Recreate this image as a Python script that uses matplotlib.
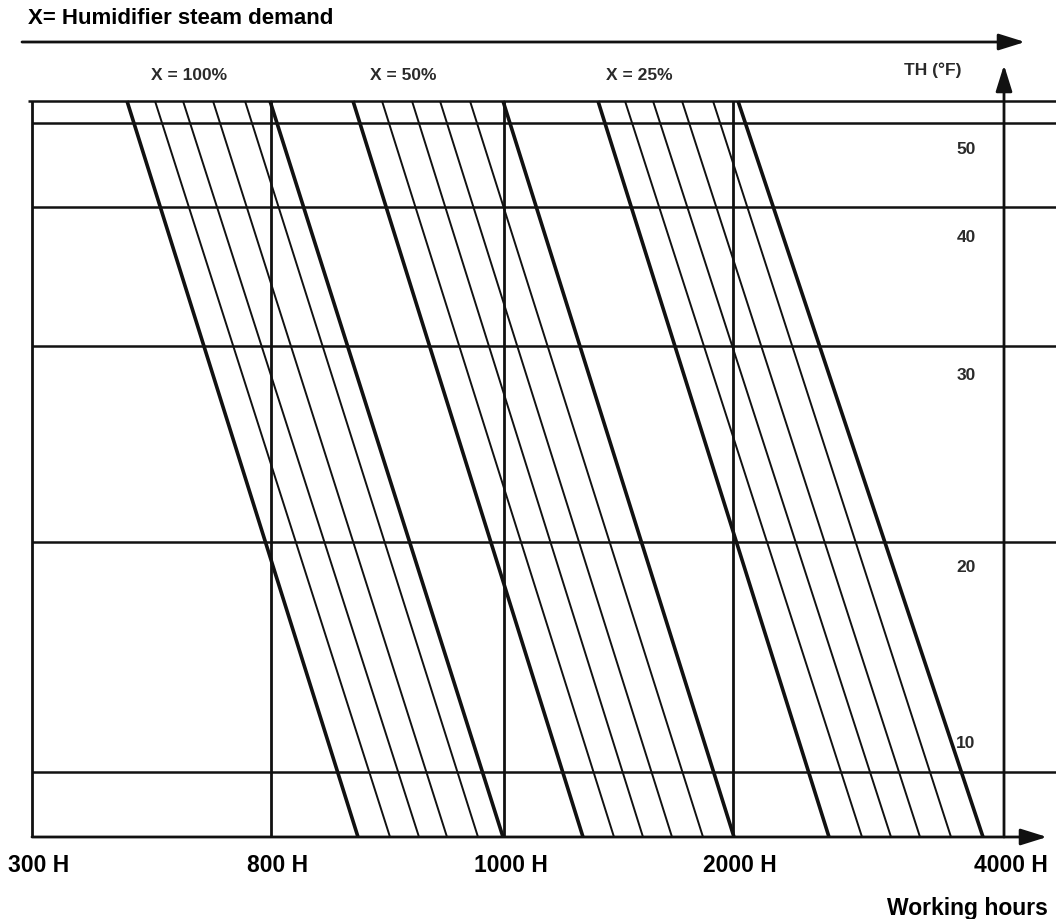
import matplotlib
matplotlib.use("Agg")
import matplotlib.pyplot as plt

# Nomogram: humidifier working hours vs TH (F) for steam demand X
# chart units: x along working-hours axis, y along TH axis (bottom line = 0)

hour_labels = ['300 H', '800 H', '1000 H', '2000 H', '4000 H']
hour_pos = [0.0, 2.39, 4.72, 7.01, 9.72]

th_labels = ['10', '20', '30', '40', '50']
th_pos = [0.94, 2.69, 4.62, 5.99, 6.87]

# horizontal reference lines of the TH scale
th_lines = [0.65, 2.95, 4.91, 6.30, 7.14, 7.36]
top_y = 7.36

# demand families: x where each line meets the top and the bottom line
x_labels = ['X = 100%', 'X = 50%', 'X = 25%']
x_label_pos = [1.57, 3.71, 6.07]

fam_top = [
    [0.95, 1.23, 1.51, 1.81, 2.13, 2.38],
    [3.21, 3.50, 3.80, 4.08, 4.38, 4.71],
    [5.66, 5.93, 6.21, 6.50, 6.81, 7.06],
]
fam_bottom = [
    [3.26, 3.58, 3.87, 4.15, 4.46, 4.71],
    [5.51, 5.82, 6.11, 6.40, 6.71, 7.02],
    [7.97, 8.30, 8.59, 8.88, 9.19, 9.51],
]

fig = plt.figure(figsize=(10.56, 9.19), dpi=100)
ax = fig.add_axes([0, 0, 1, 1])
ax.set_xlim(-0.32, 10.24)
ax.set_ylim(-0.82, 8.37)
ax.axis('off')

ink = '#111111'
bold = dict(family='Liberation Sans', weight='bold', color='black')
small = dict(family='Liberation Sans', weight='bold', color='#2a2a2a', fontsize=12.5)

# horizontal lines
for y in th_lines:
    x0 = -0.04 if y == top_y else 0.0
    ax.plot([x0, 10.24], [y, y], color=ink, lw=1.8, solid_capstyle='butt')

# vertical lines of the hours scale (not the last one, that is the arrow)
for x in hour_pos[:-1]:
    ax.plot([x, x], [0, top_y], color=ink, lw=2.0, solid_capstyle='butt')

# diagonal families
for tops, bots in zip(fam_top, fam_bottom):
    for i, (xt, xb) in enumerate(zip(tops, bots)):
        thick = i == 0 or i == len(tops) - 1
        ax.plot([xt, xb], [top_y, 0], color=ink,
                lw=2.6 if thick else 1.4, solid_capstyle='butt')

arrow = dict(arrowstyle='-|>,head_length=1.6,head_width=0.5', color=ink,
             lw=2.0, shrinkA=0, shrinkB=0, mutation_scale=10)

# working hours axis
ax.annotate('', xy=(10.15, 0), xytext=(0, 0), arrowprops=arrow)
# TH axis
ax.annotate('', xy=(hour_pos[-1], 7.72), xytext=(hour_pos[-1], 0), arrowprops=arrow)
# steam demand axis
ax.annotate('', xy=(9.93, 7.95), xytext=(-0.10, 7.95), arrowprops=arrow)

for lab, x in zip(hour_labels, hour_pos):
    ax.text(x + 0.07, -0.28, lab, ha='center', va='center', fontsize=16.5, **bold)

for lab, y in zip(th_labels, th_pos):
    ax.text(9.34, y, lab, ha='center', va='center', **small)

for lab, x in zip(x_labels, x_label_pos):
    ax.text(x, 7.62, lab, ha='center', va='center', **small)

ax.text(9.01, 7.67, 'TH (°F)', ha='center', va='center', **small)
ax.text(10.16, -0.72, 'Working hours', ha='right', va='center', fontsize=16.5, **bold)
ax.text(-0.04, 8.19, 'X= Humidifier steam demand', ha='left', va='center',
        fontsize=16, **bold)

fig.savefig('out.png', dpi=100)
